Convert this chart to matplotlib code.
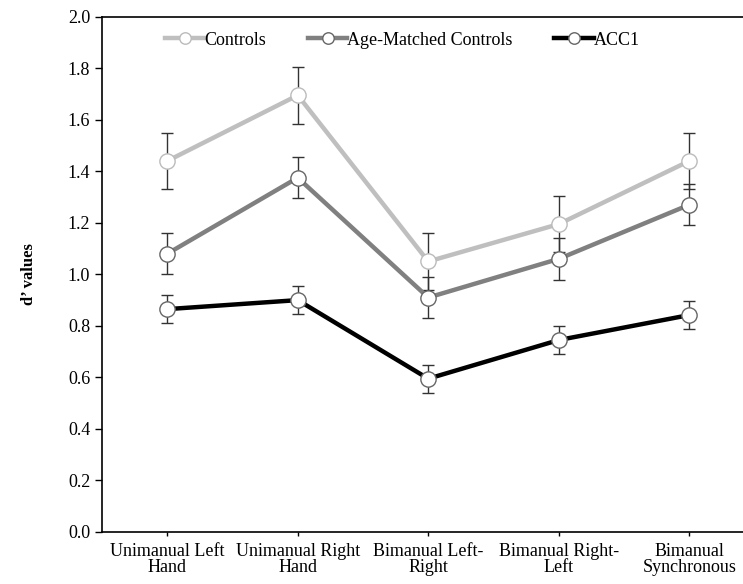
import numpy as np
import matplotlib.pyplot as plt

plt.rcParams['font.family'] = ['Liberation Serif', 'DejaVu Serif']

# Data
categories = ["Unimanual Left\nHand", "Unimanual Right\nHand", "Bimanual Left-\nRight",
              "Bimanual Right-\nLeft", "Bimanual\nSynchronous"]
controls = [1.44, 1.695, 1.05, 1.195, 1.44]
controls_err = [0.11, 0.11, 0.11, 0.11, 0.11]
age_matched = [1.08, 1.375, 0.91, 1.06, 1.27]
age_matched_err = [0.08, 0.08, 0.08, 0.08, 0.08]
acc1 = [0.865, 0.90, 0.595, 0.745, 0.842]
acc1_err = [0.055, 0.055, 0.055, 0.053, 0.055]

series = [
    ("Controls", controls, controls_err, "#BFBFBF"),
    ("Age-Matched Controls", age_matched, age_matched_err, "#808080"),
    ("ACC1", acc1, acc1_err, "#000000"),
]

fig = plt.figure(figsize=(7.43, 5.84), dpi=100)
ax = fig.add_axes([102 / 743, 52 / 584, 652.5 / 743, 515.3 / 584])

x = np.arange(len(categories))
for name, vals, errs, col in series:
    ax.errorbar(x, vals, yerr=errs, fmt="none", ecolor="#333333", elinewidth=1.0,
                capsize=4, capthick=1.0, zorder=2)
    ax.plot(x, vals, color=col, lw=3.2, marker="o", ms=11, mfc="white",
            mec="#666666" if col != "#BFBFBF" else "#BBBBBB", mew=1.0,
            label=name, zorder=3)

ax.set_xlim(-0.5, 4.5)
ax.set_ylim(0, 2.0)
ax.set_yticks(np.arange(0, 2.01, 0.2))
ax.set_yticklabels([f"{v:.1f}" for v in np.arange(0, 2.01, 0.2)])
ax.set_xticks(x)
ax.set_xticklabels(categories, linespacing=0.95)
ax.tick_params(axis="both", direction="out", labelsize=13, width=1)
ax.tick_params(axis="y", length=5)
ax.tick_params(axis="x", length=3, pad=5)
ax.spines["right"].set_visible(False)
for s in ["left", "bottom", "top"]:
    ax.spines[s].set_linewidth(1.2)

ax.set_ylabel("d\u2019 values", fontsize=12, fontweight="bold", labelpad=22)

ax.legend(loc="upper left", bbox_to_anchor=(0.096, 0.971), ncol=3, frameon=False,
          fontsize=13, handlelength=2.2, handletextpad=0.0, columnspacing=2.3,
          borderpad=0, borderaxespad=0, markerscale=0.75)

fig.savefig("out.png", dpi=100)
